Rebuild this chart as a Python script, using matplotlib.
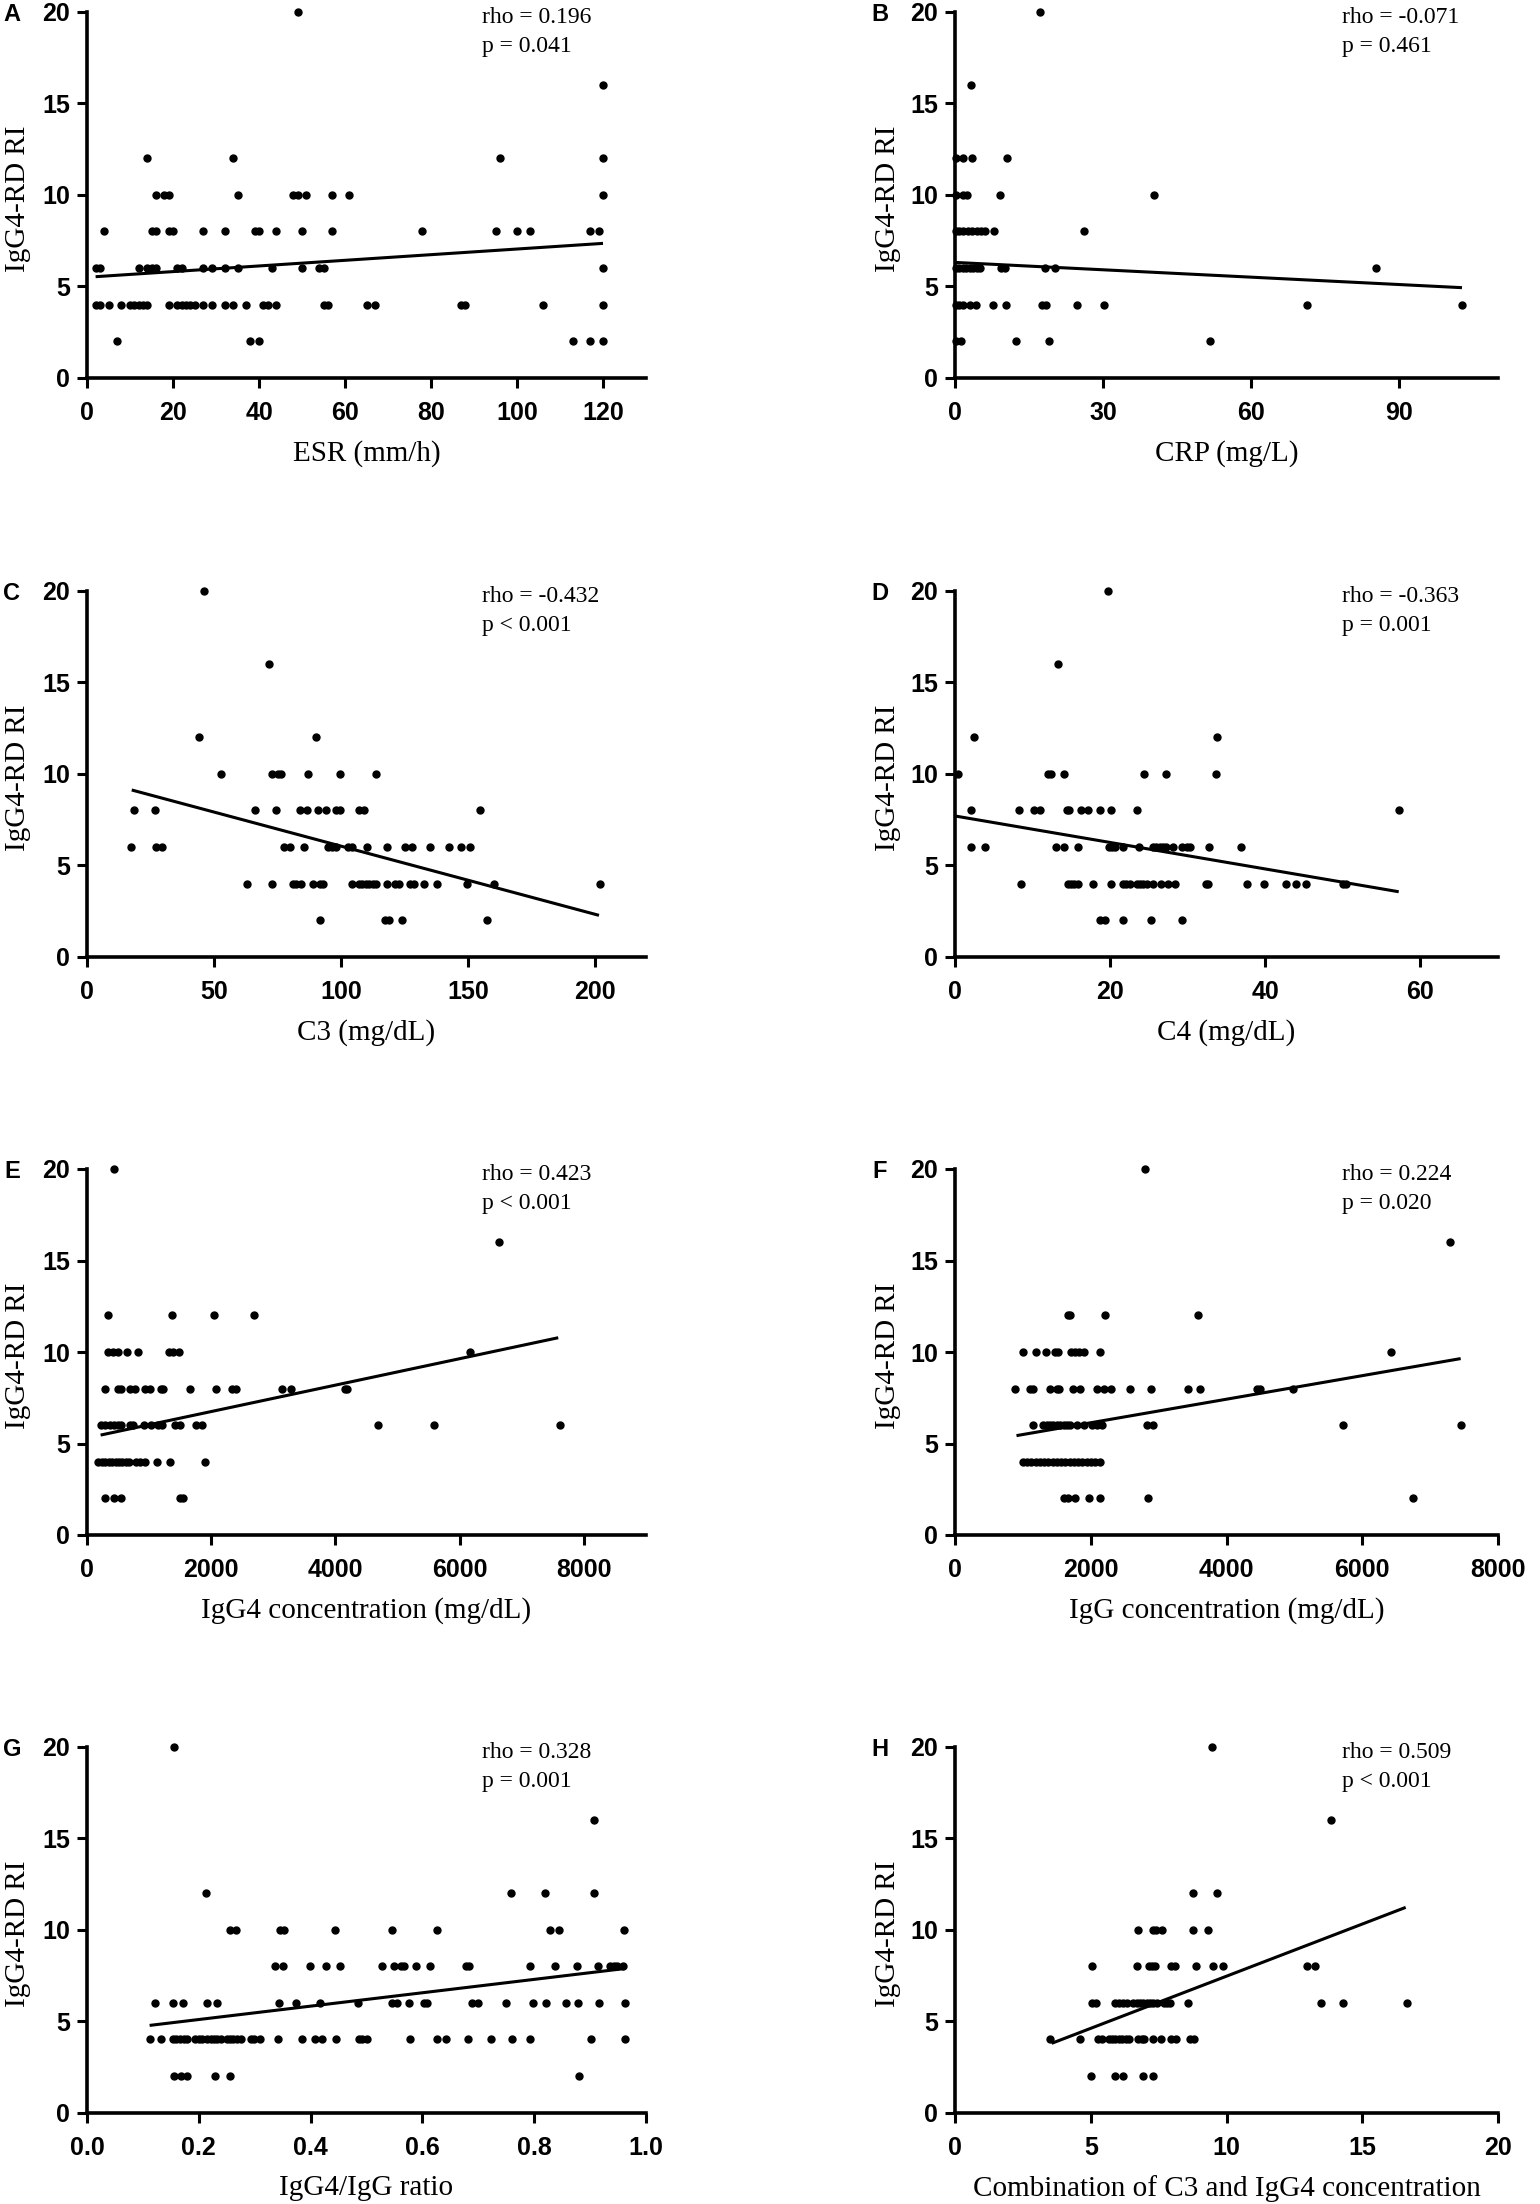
import numpy as np
import matplotlib
matplotlib.use("Agg")
import matplotlib.pyplot as plt

# y level -> x values (IgG4-RD RI only takes even values)
esr_pts = [
    (20, [49]),
    (16, [120]),
    (12, [14, 34, 96, 120]),
    (10, [16, 18, 19, 35, 48, 49, 51, 57, 61, 120]),
    (8, [4, 15, 16, 19, 20, 27, 32, 39, 40, 44, 50, 57, 78, 95, 100, 103, 117, 119]),
    (6, [2, 3, 12, 14, 15, 16, 21, 22, 27, 29, 32, 35, 43, 50, 54, 55, 120]),
    (4, [2, 3, 5, 8, 10, 11, 12, 13, 14, 19, 21, 22, 23, 24, 25, 27, 29, 32, 34, 37,
         41, 42, 44, 55, 56, 65, 67, 87, 88, 106, 120]),
    (2, [7, 38, 40, 113, 117, 120]),
]
crp_pts = [
    (20, [17.3]),
    (16, [3.3]),
    (12, [0.2, 1.6, 3.5, 10.5]),
    (10, [0.2, 1.6, 2.4, 9.1, 40.4]),
    (8, [0.2, 0.9, 1.7, 2.6, 3.5, 4.4, 5.2, 6.1, 7.9, 26.2]),
    (6, [0.2, 0.9, 1.6, 2.3, 3.0, 3.7, 4.4, 5.1, 9.4, 10.1, 18.2, 20.3, 85.3]),
    (4, [0.2, 0.9, 1.6, 3.0, 4.2, 7.7, 10.3, 17.7, 18.5, 24.7, 30.1, 71.3, 102.7]),
    (2, [0.2, 1.2, 12.4, 19.1, 51.7]),
]
c3_pts = [
    (20, [46]),
    (16, [71.6]),
    (12, [44, 90]),
    (10, [52.8, 72.9, 75, 76.3, 87, 99.4, 113.8]),
    (8, [18.4, 26.8, 66.2, 74.2, 83.7, 86.7, 91, 94, 97.8, 99.4, 107, 109.1, 154.7]),
    (6, [17.3, 27, 29.7, 77.6, 80, 85.3, 95, 96.4, 97.8, 102.8, 104.1, 110.1, 118.2,
         125.2, 127.9, 135, 142.3, 147, 150.7]),
    (4, [62.9, 72.9, 81, 82.3, 84.3, 89, 91.7, 93, 104.4, 107, 108.4, 109.8, 111.1,
         112.5, 113.8, 117.9, 121.2, 122.6, 127.3, 128.6, 132.6, 137.6, 149.7, 160.1, 202]),
    (2, [91.7, 117.2, 118.9, 123.9, 157.4]),
]
c4_pts = [
    (20, [19.7]),
    (16, [13.3]),
    (12, [2.5, 33.8]),
    (10, [0.4, 12.0, 12.4, 14.0, 24.4, 27.2, 33.7]),
    (8, [2.0, 8.3, 10.2, 10.9, 14.4, 14.7, 16.3, 17.2, 18.7, 20.1, 23.5, 57.2]),
    (6, [2.1, 3.9, 13.0, 14.0, 15.8, 19.8, 20.2, 20.6, 21.7, 23.7, 25.5, 25.9, 26.4,
         26.8, 27.2, 28.1, 29.3, 29.9, 30.3, 32.7, 36.9]),
    (4, [8.5, 14.6, 15.0, 15.4, 15.9, 17.8, 20.1, 21.7, 22.1, 22.5, 23.4, 23.9, 24.3,
         24.7, 25.5, 26.6, 27.4, 28.4, 32.4, 32.6, 37.7, 39.8, 42.7, 43.9, 45.2, 50.0, 50.4]),
    (2, [18.7, 19.3, 21.7, 25.3, 29.3]),
]
igg4_pts = [
    (20, [432]),
    (16, [6628]),
    (12, [343, 1371, 2042, 2694]),
    (10, [343, 411, 500, 637, 829, 1323, 1391, 1474, 6169]),
    (8, [295, 500, 541, 692, 774, 939, 1008, 1186, 1227, 1652, 2077, 2337, 2392,
         3132, 3283, 4147, 4188]),
    (6, [226, 295, 363, 432, 500, 541, 692, 747, 912, 1035, 1145, 1213, 1419, 1501,
         1748, 1844, 4681, 5586, 7608]),
    (4, [185, 240, 295, 350, 404, 459, 514, 569, 624, 679, 788, 857, 939, 1131, 1337, 1898]),
    (2, [295, 432, 541, 1501, 1542]),
]
igg_pts = [
    (20, [2800]),
    (16, [7300]),
    (12, [1662, 1688, 2212, 3575]),
    (10, [1000, 1188, 1338, 1475, 1512, 1712, 1762, 1825, 1900, 2138, 6425]),
    (8, [888, 1112, 1150, 1400, 1500, 1538, 1738, 1838, 2088, 2200, 2300, 2575, 2888,
         3438, 3612, 4450, 4488, 4975]),
    (6, [1156, 1300, 1350, 1400, 1450, 1500, 1550, 1600, 1650, 1700, 1800, 1900, 2025,
         2088, 2162, 2825, 2912, 5712, 7450]),
    (4, [1000, 1063, 1125, 1188, 1250, 1313, 1375, 1438, 1500, 1563, 1625, 1688, 1750,
         1813, 1875, 1938, 2000, 2063, 2138]),
    (2, [1612, 1662, 1762, 1975, 2138, 2850, 6750]),
]
ratio_pts = [
    (20, [0.156]),
    (16, [0.907]),
    (12, [0.212, 0.758, 0.819, 0.907]),
    (10, [0.256, 0.267, 0.346, 0.352, 0.443, 0.545, 0.626, 0.829, 0.845, 0.960]),
    (8, [0.337, 0.351, 0.399, 0.427, 0.452, 0.527, 0.550, 0.562, 0.567, 0.589, 0.614,
         0.678, 0.684, 0.792, 0.837, 0.877, 0.915, 0.936, 0.942, 0.948, 0.959]),
    (6, [0.121, 0.153, 0.171, 0.215, 0.232, 0.343, 0.373, 0.417, 0.484, 0.545, 0.554,
         0.576, 0.602, 0.608, 0.688, 0.700, 0.749, 0.798, 0.822, 0.856, 0.878, 0.916, 0.962]),
    (4, [0.112, 0.132, 0.154, 0.160, 0.167, 0.173, 0.179, 0.194, 0.200, 0.206, 0.215,
         0.221, 0.227, 0.233, 0.240, 0.250, 0.256, 0.262, 0.268, 0.275, 0.293, 0.299,
         0.310, 0.341, 0.384, 0.408, 0.421, 0.445, 0.486, 0.492, 0.501, 0.577, 0.627,
         0.643, 0.681, 0.722, 0.760, 0.793, 0.901, 0.962]),
    (2, [0.156, 0.168, 0.179, 0.229, 0.256, 0.881]),
]
combo_pts = [
    (20, [9.47]),
    (16, [13.84]),
    (12, [8.75, 9.66]),
    (10, [6.75, 7.28, 7.41, 7.63, 8.78, 9.31]),
    (8, [5.03, 6.69, 7.13, 7.25, 7.38, 7.94, 8.09, 8.88, 9.5, 9.88, 12.97, 13.25]),
    (6, [5.03, 5.19, 5.88, 6.03, 6.19, 6.34, 6.56, 6.69, 6.81, 6.94, 7.06, 7.19, 7.31,
         7.44, 7.69, 7.81, 7.91, 8.59, 13.47, 14.28, 16.66]),
    (4, [3.5, 4.59, 5.28, 5.41, 5.66, 5.78, 5.91, 6.03, 6.16, 6.28, 6.41, 6.75, 6.88,
         6.97, 7.31, 7.59, 7.97, 8.13, 8.66, 8.81]),
    (2, [5.0, 5.88, 6.19, 6.94, 7.31]),
]

# regression line end points as drawn
esr_fit = ([2, 120], [5.52, 7.34])
crp_fit = ([0, 102.7], [6.30, 4.92])
c3_fit = ([17.6, 201.5], [9.11, 2.26])
c4_fit = ([0, 57.2], [7.69, 3.55])
igg4_fit = ([219, 7587], [5.46, 10.78])
igg_fit = ([906, 7450], [5.43, 9.64])
ratio_fit = ([0.112, 0.960], [4.77, 7.87])
combo_fit = ([3.56, 16.6], [3.79, 11.22])

letters = ["A", "B", "C", "D", "E", "F", "G", "H"]
xlabels = ["ESR (mm/h)", "CRP (mg/L)", "C3 (mg/dL)", "C4 (mg/dL)",
           "IgG4 concentration (mg/dL)", "IgG concentration (mg/dL)",
           "IgG4/IgG ratio", "Combination of C3 and IgG4 concentration"]
rhos = ["rho = 0.196", "rho = -0.071", "rho = -0.432", "rho = -0.363",
        "rho = 0.423", "rho = 0.224", "rho = 0.328", "rho = 0.509"]
pvals = ["p = 0.041", "p = 0.461", "p < 0.001", "p = 0.001",
         "p < 0.001", "p = 0.020", "p = 0.001", "p < 0.001"]
xmax = [130, 110, 220, 70, 9000, 8000, 1.0, 20]
xticks = [[0, 20, 40, 60, 80, 100, 120], [0, 30, 60, 90], [0, 50, 100, 150, 200],
          [0, 20, 40, 60], [0, 2000, 4000, 6000, 8000], [0, 2000, 4000, 6000, 8000],
          [0.0, 0.2, 0.4, 0.6, 0.8, 1.0], [0, 5, 10, 15, 20]]
yticks = [0, 5, 10, 15, 20]

panels = [esr_pts, crp_pts, c3_pts, c4_pts, igg4_pts, igg_pts, ratio_pts, combo_pts]
fits = [esr_fit, crp_fit, c3_fit, c4_fit, igg4_fit, igg_fit, ratio_fit, combo_fit]

W, H = 1540, 2204
serif = ["Liberation Serif", "DejaVu Serif"]
sans = ["Liberation Sans", "DejaVu Sans"]

plt.rcParams["font.family"] = sans
plt.rcParams["font.weight"] = "bold"

fig = plt.figure(figsize=(W / 100, H / 100), dpi=100)

col_left = [87, 955]
col_width = [559, 543]
row_top = [11.7, 590.7, 1169, 1746.7]
ax_h = 366
text_x = [0.706, 0.713]

for i in range(8):
    r, c = divmod(i, 2)
    left = col_left[c] / W
    bottom = 1 - (row_top[r] + ax_h) / H
    ax = fig.add_axes([left, bottom, col_width[c] / W, ax_h / H])

    xs, ys = [], []
    for lvl, vals in panels[i]:
        xs += vals
        ys += [lvl] * len(vals)
    ax.plot(xs, ys, "o", color="black", markersize=5.0, clip_on=False, zorder=3)
    fx, fy = fits[i]
    ax.plot(fx, fy, color="black", lw=2.2, solid_capstyle="butt", zorder=4)

    ax.set_xlim(0, xmax[i])
    ax.set_ylim(0, 20)
    if i == 6:
        xt_lab = ["%.1f" % v for v in xticks[i]]
    else:
        xt_lab = [str(v) for v in xticks[i]]
    ax.set_xticks(xticks[i])
    ax.set_xticklabels(xt_lab, fontfamily=sans, fontweight="bold", fontsize=18)
    ax.set_yticks(yticks)
    ax.set_yticklabels([str(v) for v in yticks], fontfamily=sans,
                       fontweight="bold", fontsize=18)
    for s in ["top", "right"]:
        ax.spines[s].set_visible(False)
    for s in ["left", "bottom"]:
        ax.spines[s].set_linewidth(2.6)
    ax.tick_params(direction="out", length=7.5, width=2.2)
    ax.tick_params(axis="x", pad=9)
    ax.tick_params(axis="y", pad=4.5)

    ax.set_xlabel(xlabels[i], fontfamily=serif, fontweight="normal", fontsize=21)
    ax.xaxis.set_label_coords(0.5, -0.17)
    ax.set_ylabel("IgG4-RD RI", fontfamily=serif, fontweight="normal", fontsize=21)
    ax.yaxis.set_label_coords(-0.10, 0.49)

    ax.text(text_x[c], 0.970, rhos[i], transform=ax.transAxes, fontfamily=serif,
            fontweight="normal", fontsize=17, va="baseline", ha="left")
    ax.text(text_x[c], 0.891, pvals[i], transform=ax.transAxes, fontfamily=serif,
            fontweight="normal", fontsize=17, va="baseline", ha="left")

    fig.text((col_left[c] - 75) / W, 1 - (row_top[r] + 3) / H, letters[i],
             fontfamily=sans, fontweight="bold",
             fontsize=17, ha="center", va="center")

fig.savefig("out.png", dpi=100)
